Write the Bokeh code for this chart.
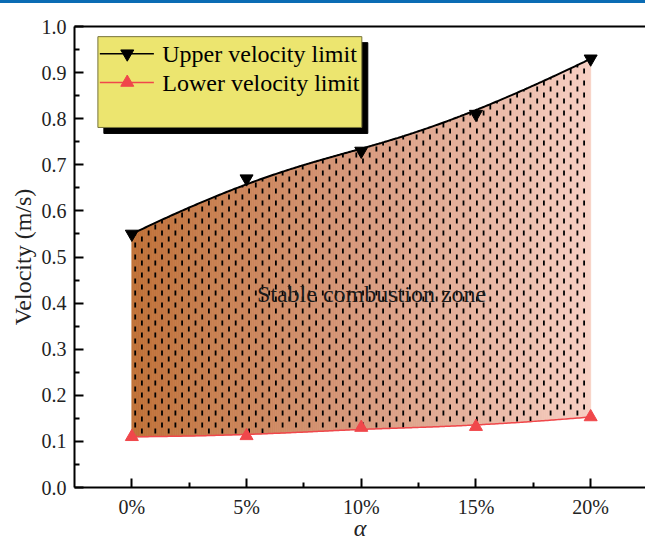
import numpy as np
from bokeh.plotting import figure
from bokeh.models import FixedTicker, LinearAxis, Range1d, Div
from bokeh.layouts import column
from bokeh.embed import file_html
from bokeh.resources import INLINE
from bokeh.core.properties import value

# ---------------- data ----------------
categories = ["0%", "5%", "10%", "15%", "20%"]
upper_velocity = [0.55, 0.67, 0.73, 0.81, 0.93]
lower_velocity = [0.11, 0.112, 0.13, 0.132, 0.153]
y_ticks = [0.0, 0.1, 0.2, 0.3, 0.4, 0.5, 0.6, 0.7, 0.8, 0.9, 1.0]
y_tick_labels = ["0.0", "0.1", "0.2", "0.3", "0.4", "0.5", "0.6", "0.7", "0.8", "0.9", "1.0"]
series_names = ["Upper velocity limit", "Lower velocity limit"]
zone_label = "Stable combustion zone"

x_pos = list(range(len(categories)))

SERIF = "Liberation Serif"
RED = "#f0474b"

FRAME_W, FRAME_H = 571, 461
X0, X1 = -0.5, 4.478
PX_PER_X = FRAME_W / (X1 - X0)
PX_PER_Y = FRAME_H / 1.0


def bspline_curve(cx, cy, num=300, k=3):
    """Clamped cubic B-spline using the data points as control points."""
    P = np.column_stack([cx, cy]).astype(float)
    n = len(P)
    inner = np.linspace(0, 1, n - k + 1)[1:-1]
    knots = np.concatenate([np.zeros(k + 1), inner, np.ones(k + 1)])

    def N(i, p, t):
        if p == 0:
            if knots[i] <= t < knots[i + 1]:
                return 1.0
            if t == 1.0 and knots[i] < knots[i + 1] and knots[i + 1] == 1.0:
                return 1.0
            return 0.0
        a = 0.0
        d1 = knots[i + p] - knots[i]
        if d1 > 0:
            a += (t - knots[i]) / d1 * N(i, p - 1, t)
        d2 = knots[i + p + 1] - knots[i + 1]
        if d2 > 0:
            a += (knots[i + p + 1] - t) / d2 * N(i + 1, p - 1, t)
        return a

    ts = np.linspace(0, 1, num)
    pts = np.array([[sum(N(i, k, t) * P[i, j] for i in range(n)) for j in range(2)] for t in ts])
    return pts[:, 0], pts[:, 1]


ux, uy = bspline_curve(x_pos, upper_velocity)
lx, ly = bspline_curve(x_pos, lower_velocity)
xg = np.linspace(x_pos[0], x_pos[-1], 241)
ug = np.interp(xg, ux, uy)
lg = np.interp(xg, lx, ly)

# ---------------- figure ----------------
p = figure(
    output_backend="svg", toolbar_location=None,
    frame_width=FRAME_W, frame_height=FRAME_H,
    min_border_left=74, min_border_right=0, min_border_top=23, min_border_bottom=63,
    x_range=Range1d(X0, X1), y_range=Range1d(0, 1.0),
    background_fill_color="white", border_fill_color="white",
)
p.outline_line_color = None
p.grid.visible = False

# gradient fill built from vertical strips
stops_t = [0.0, 0.5, 1.0]
stops_c = np.array([[192, 113, 56], [216, 154, 126], [247, 207, 195]], dtype=float)
xs, ys, cols = [], [], []
for j in range(len(xg) - 1):
    tm = (0.5 * (xg[j] + xg[j + 1]) - xg[0]) / (xg[-1] - xg[0])
    c = [np.interp(tm, stops_t, stops_c[:, ch]) for ch in range(3)]
    cols.append("#%02x%02x%02x" % tuple(int(round(v)) for v in c))
    xs.append([xg[j], xg[j + 1], xg[j + 1], xg[j]])
    ys.append([lg[j], lg[j + 1], ug[j + 1], ug[j]])
p.patches(xs=xs, ys=ys, fill_color=cols, line_color=cols, line_width=0.8)

# dashed texture (staggered short vertical dashes), clipped to the zone
col_step = 6.7 / PX_PER_X
period = 12.0 / PX_PER_Y
dash_len, gap_len = 5, 7
cx = np.arange(x_pos[0] + 0.5 * col_step, x_pos[-1], col_step)
cu = np.interp(cx, xg, ug)
cl = np.interp(cx, xg, lg)
for parity in (0, 1):
    sel = np.arange(len(cx)) % 2 == parity
    shift = 0.5 * period * parity
    start = np.ceil((cl[sel] - shift) / period) * period + shift
    p.segment(x0=cx[sel], y0=start, x1=cx[sel], y1=cu[sel],
              line_color="black", line_width=1.8, line_dash=f"{dash_len} {gap_len}")

# curves and markers
p.line(ux, uy, line_color="black", line_width=2)
p.line(lx, ly, line_color=RED, line_width=1.5)
p.scatter(x_pos, upper_velocity, marker="inverted_triangle", size=13,
          fill_color="black", line_color="black")
p.scatter(x_pos, lower_velocity, marker="triangle", size=13,
          fill_color=RED, line_color=RED)

p.text(x=[2.09], y=[0.42], text=[zone_label], text_font=value(SERIF),
       text_font_size="24px", text_align="center", text_baseline="middle",
       text_color="#1a1a1a")

# ---------------- legend (manual, with shadow) ----------------
bx0, bx1, by0, by1 = -0.296, 2.005, 0.781, 0.978
dx, dy = 0.052, -0.013
p.quad(left=[bx0 + dx], right=[bx1 + dx], bottom=[by0 + dy], top=[by1 + dy],
       fill_color="black", line_color="black")
p.quad(left=[bx0], right=[bx1], bottom=[by0], top=[by1],
       fill_color="#ece56f", line_color="#77743a", line_width=1)
row_y = [0.941, 0.8785]
p.segment(x0=[-0.279], x1=[0.192], y0=[row_y[0]], y1=[row_y[0]], line_color="black", line_width=1.5)
p.segment(x0=[-0.279], x1=[0.192], y0=[row_y[1]], y1=[row_y[1]], line_color=RED, line_width=1.5)
p.scatter([-0.04], [row_y[0]], marker="inverted_triangle", size=13, fill_color="black", line_color="black")
p.scatter([-0.04], [row_y[1]], marker="triangle", size=13, fill_color=RED, line_color=RED)
p.text(x=[0.265, 0.265], y=row_y, text=series_names, text_font=value(SERIF),
       text_font_size="24px", text_align="left", text_baseline="middle", text_color="black")

# ---------------- axes ----------------
xa = p.xaxis[0]
xa.ticker = FixedTicker(ticks=x_pos, minor_ticks=[0.5, 1.5, 2.5, 3.5])
xa.major_label_overrides = {i: c for i, c in zip(x_pos, categories)}
xa.axis_label = "α"
xa.axis_label_text_font = SERIF
xa.axis_label_text_font_style = "italic"
xa.axis_label_text_font_size = "24px"
xa.axis_label_standoff = -6

ya = p.yaxis[0]
ya.ticker = FixedTicker(ticks=y_ticks, minor_ticks=[0.05 + 0.1 * i for i in range(10)])
ya.major_label_overrides = {t: l for t, l in zip(y_ticks, y_tick_labels)}
ya.axis_label = "Velocity (m/s)"
ya.axis_label_text_font = SERIF
ya.axis_label_text_font_style = "normal"
ya.axis_label_text_font_size = "24px"
ya.axis_label_standoff = 3

for ax in (xa, ya):
    ax.axis_line_width = 2
    ax.axis_line_color = "black"
    ax.major_tick_in = 9
    ax.major_tick_out = 0
    ax.minor_tick_in = 5
    ax.minor_tick_out = 0
    ax.major_tick_line_width = 2
    ax.minor_tick_line_width = 2
    ax.major_tick_line_color = "black"
    ax.minor_tick_line_color = "black"
    ax.major_label_text_font = SERIF
    ax.major_label_text_font_size = "20px"
    ax.major_label_text_color = "#222222"
    ax.axis_label_text_color = "#222222"
    ax.major_label_standoff = 8

top = LinearAxis(ticker=FixedTicker(ticks=[]), major_label_text_font_size="0px",
                 major_tick_line_color=None, minor_tick_line_color=None,
                 axis_line_width=2, axis_line_color="black")
p.add_layout(top, "above")

bar = Div(width=645, height=3, margin=(0, 0, 0, 0),
          styles={"background-color": "#0b6cb4"})
layout = column(bar, p, spacing=0)

open("out.html", "w").write(file_html(layout, INLINE))
